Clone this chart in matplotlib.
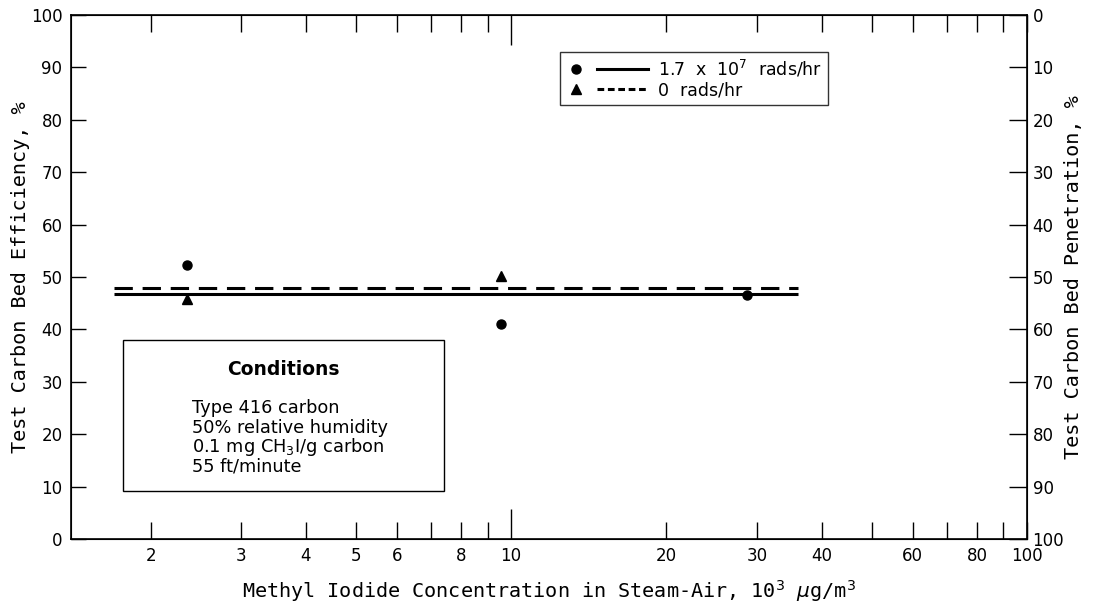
import matplotlib
matplotlib.use("Agg")
import matplotlib.pyplot as plt
from matplotlib.lines import Line2D
from matplotlib.patches import Rectangle
from matplotlib.legend_handler import HandlerBase
from matplotlib.ticker import FixedLocator, FixedFormatter

plt.rcParams['font.family'] = ['DejaVu Sans']
plt.rcParams['mathtext.fontset'] = 'dejavusans'

# measured points, efficiency in %
conc_irr = [2.35, 9.55, 28.7]
eff_irr = [52.2, 41.0, 46.6]
conc_zero = [2.35, 9.55]
eff_zero = [45.8, 50.1]

# fitted mean lines
fit_conc = [1.7, 36.0]
fit_irr = [46.8, 46.8]
fit_zero = [47.9, 47.9]

minor_vals = [2, 3, 4, 5, 6, 7, 8, 9, 20, 30, 40, 50, 60, 70, 80, 90, 100]
minor_labels = ['2', '3', '4', '5', '6', '', '8', '', '20', '30', '40', '', '60', '', '80', '', '100']
eff_ticks = [0, 10, 20, 30, 40, 50, 60, 70, 80, 90, 100]

cond_title = "Conditions"
cond_lines = ["Type 416 carbon",
              "50% relative humidity",
              "0.1 mg CH$_3$I/g carbon",
              "55 ft/minute"]

LABEL_FONT = dict(family='DejaVu Sans Mono', fontsize=14.5)


class MarkerThenLine(HandlerBase):
    # marker on the left, short line sample after it
    def create_artists(self, legend, orig_handle, xdescent, ydescent,
                       width, height, fontsize, trans):
        mk, ln = orig_handle
        y = height / 2.0 - ydescent
        m = Line2D([-xdescent + 0.12 * width], [y], ls='none',
                   marker=mk.get_marker(), ms=mk.get_markersize(), color='black')
        l = Line2D([-xdescent + 0.38 * width, -xdescent + width], [y, y],
                   color='black', lw=ln.get_linewidth(), ls=ln.get_linestyle())
        if ln.get_linestyle() != '-':
            l.set_dashes((2.2, 1.2))
        m.set_transform(trans)
        l.set_transform(trans)
        return [m, l]


fig = plt.figure(figsize=(10.93, 6.09), dpi=100)
ax = fig.add_axes([0.0647, 0.1149, 0.8749, 0.8605])

ax.plot(fit_conc, fit_irr, color='black', lw=2.2, solid_capstyle='butt')
ax.plot(fit_conc, fit_zero, color='black', lw=2.2, dashes=(6.0, 3.2))
ax.plot(conc_irr, eff_irr, 'o', color='black', ms=6.5)
ax.plot(conc_zero, eff_zero, '^', color='black', ms=7)

ax.set_xscale('log')
ax.set_xlim(1.4, 100)
ax.set_ylim(0, 100)

ax.xaxis.set_major_locator(FixedLocator([10]))
ax.xaxis.set_major_formatter(FixedFormatter(['10']))
ax.xaxis.set_minor_locator(FixedLocator(minor_vals))
ax.xaxis.set_minor_formatter(FixedFormatter(minor_labels))
ax.tick_params(axis='x', which='major', direction='in', length=21.5, width=1.0,
               top=True, bottom=True, labelsize=12, pad=6)
ax.tick_params(axis='x', which='minor', direction='in', length=12.5, width=1.0,
               top=True, bottom=True, labelsize=12, pad=6)

ax.set_yticks(eff_ticks)
ax.tick_params(axis='y', direction='in', length=11, width=1.0, labelsize=12,
               pad=6, right=False)

for s in ax.spines.values():
    s.set_linewidth(1.2)

ax2 = ax.twinx()
ax2.set_ylim(100, 0)
ax2.set_yticks(eff_ticks)
ax2.tick_params(axis='y', direction='in', length=13, width=1.0, labelsize=12, pad=4)
ax2.set_ylabel("Test Carbon Bed Penetration, %", rotation=90, **LABEL_FONT)
ax2.yaxis.set_label_coords(1.039, 0.5)

ax.set_ylabel("Test Carbon Bed Efficiency, %", **LABEL_FONT)
ax.yaxis.set_label_coords(-0.043, 0.5)
ax.set_xlabel("Methyl Iodide Concentration in Steam-Air, 10$^3$ $\\mu$g/m$^3$", **LABEL_FONT)
ax.xaxis.set_label_coords(0.5, -0.075)

# legend
h_irr = (Line2D([], [], marker='o', ls='none', ms=6.5),
         Line2D([], [], color='black', lw=2.2, ls='-'))
h_zero = (Line2D([], [], marker='^', ls='none', ms=7),
          Line2D([], [], color='black', lw=2.2, ls='--'))
leg = ax.legend([h_irr, h_zero], ["1.7  x  10$^7$  rads/hr", "0  rads/hr"],
                handler_map={tuple: MarkerThenLine()},
                loc='upper left', bbox_to_anchor=(0.512, 0.929),
                frameon=True, fancybox=False, edgecolor='black',
                fontsize=12.5, handlelength=4.7, handletextpad=0.55,
                borderpad=0.35, labelspacing=0.1, borderaxespad=0)
leg.get_frame().set_linewidth(1.0)

# conditions box
ax.add_patch(Rectangle((0.0544, 0.0916), 0.336, 0.2882, transform=ax.transAxes,
                       fill=False, edgecolor='black', lw=1.0))
ax.text(0.222, 0.324, cond_title, transform=ax.transAxes, ha='center', va='center',
        fontsize=13.5, fontweight='bold')
for i, line in enumerate(cond_lines):
    ax.text(0.1268, 0.25 - i * 0.0372, line, transform=ax.transAxes,
            ha='left', va='center', fontsize=12.8)

fig.savefig('out.png', dpi=100)
